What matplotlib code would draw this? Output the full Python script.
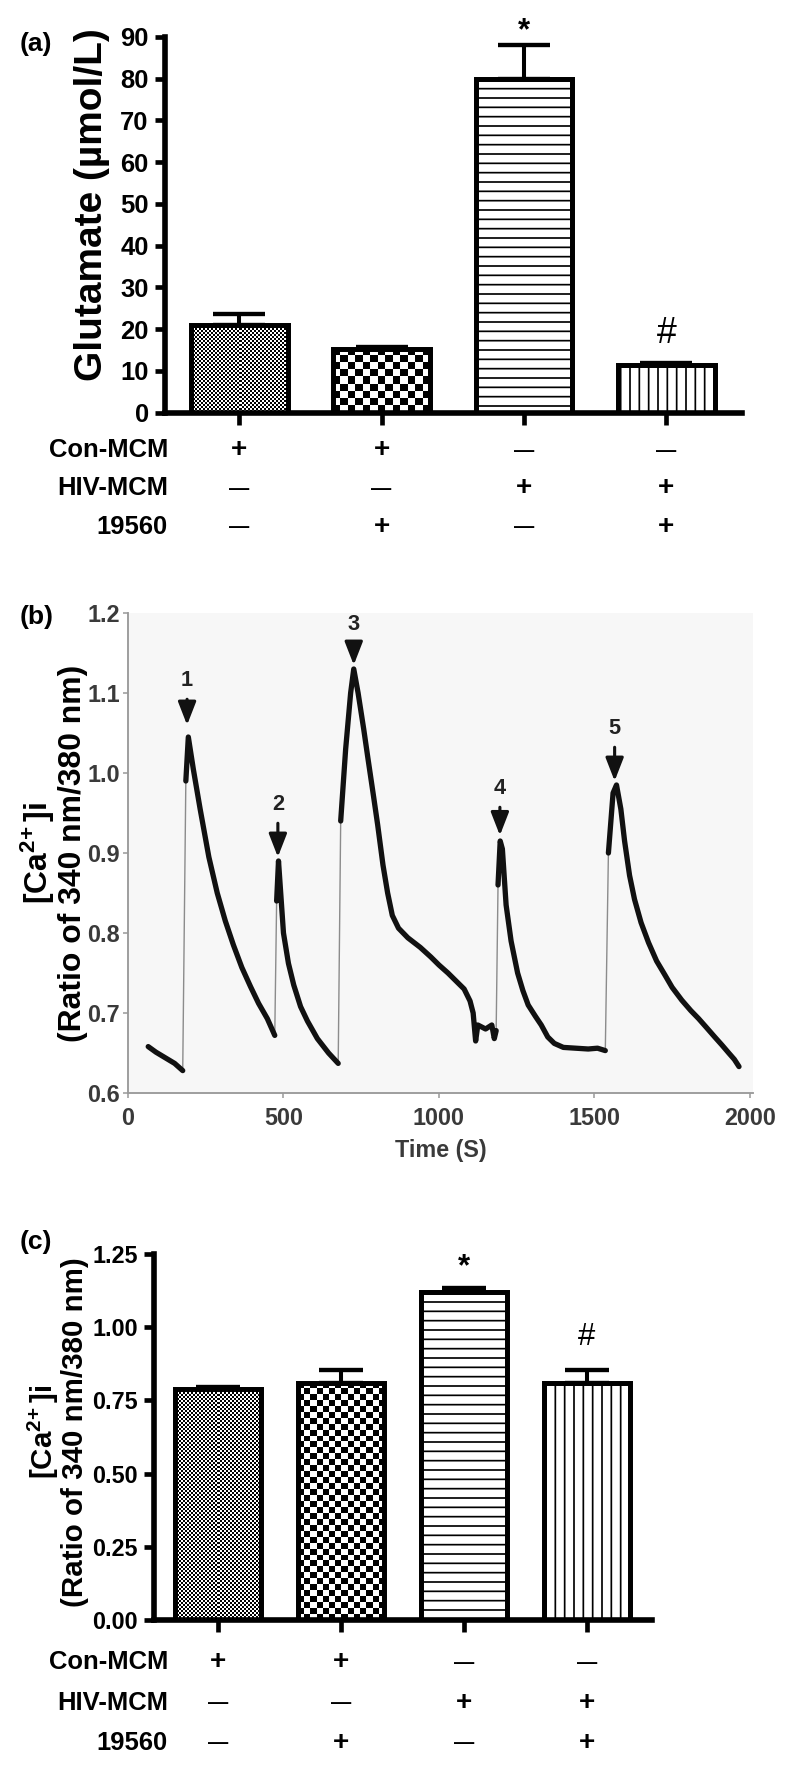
import numpy as np
import matplotlib
matplotlib.use('Agg')
import matplotlib.pyplot as plt
import matplotlib.transforms as mtransforms

plt.rcParams['font.family'] = ['Liberation Sans', 'DejaVu Sans']
plt.rcParams['font.weight'] = 'bold'
plt.rcParams['axes.labelweight'] = 'bold'
plt.rcParams['mathtext.fontset'] = 'custom'
plt.rcParams['mathtext.rm'] = 'Liberation Sans:bold'
plt.rcParams['mathtext.it'] = 'Liberation Sans:bold'
plt.rcParams['mathtext.bf'] = 'Liberation Sans:bold'
plt.rcParams['hatch.linewidth'] = 1.1
plt.rcParams['hatch.color'] = 'black'

# ---- data ----
glu_mean = [21.0, 15.3, 80.0, 11.5]
glu_err = [2.5, 0.4, 8.0, 0.4]
ca_mean = [0.79, 0.81, 1.12, 0.81]
ca_err = [0.007, 0.043, 0.015, 0.043]
sig_marks = ['', '', '*', '#']

row_names = ['Con-MCM', 'HIV-MCM', '19560']
con_mcm = ['+', '+', '\u2014', '\u2014']
hiv_mcm = ['\u2014', '\u2014', '+', '+']
drug_19560 = ['\u2014', '+', '\u2014', '+']

# calcium trace, panel (b)
time_s = [65, 90, 120, 150, 176,
          186, 194, 210, 232, 260, 287, 313, 339, 366, 394, 420, 448, 472,
          478, 484, 500, 516, 533, 555, 577, 609, 645, 676,
          684, 700, 716, 726, 740, 758, 771, 790, 803, 820, 835, 850, 870, 900,
          940, 974, 1000, 1029, 1055, 1081, 1100, 1110, 1118, 1125, 1150, 1170,
          1178, 1184,
          1190, 1197, 1204, 1216, 1232, 1253, 1270, 1287, 1310, 1329, 1350, 1371,
          1400, 1440, 1480, 1510, 1535,
          1545, 1560, 1571, 1585, 1597, 1613, 1629, 1650, 1674, 1700, 1726, 1750,
          1781, 1810, 1835, 1860, 1887, 1910, 1932, 1950, 1965]
ratio = [0.658, 0.651, 0.644, 0.637, 0.628,
         0.99, 1.045, 1.005, 0.955, 0.895, 0.85, 0.815, 0.785, 0.757, 0.733, 0.712, 0.693, 0.672,
         0.84, 0.89, 0.80, 0.762, 0.735, 0.708, 0.69, 0.668, 0.65, 0.637,
         0.94, 1.03, 1.10, 1.13, 1.10, 1.055, 1.02, 0.97, 0.935, 0.885, 0.85, 0.822, 0.806, 0.794,
         0.782, 0.77, 0.76, 0.75, 0.74, 0.73, 0.715, 0.70, 0.665, 0.685, 0.68, 0.685,
         0.668, 0.678,
         0.86, 0.915, 0.905, 0.835, 0.79, 0.75, 0.728, 0.71, 0.696, 0.685, 0.67, 0.662,
         0.657, 0.656, 0.655, 0.656, 0.653,
         0.90, 0.975, 0.985, 0.955, 0.915, 0.872, 0.842, 0.813, 0.788, 0.765, 0.748, 0.732,
         0.716, 0.703, 0.693, 0.682, 0.67, 0.66, 0.65, 0.642, 0.633]

arrow_labels = ['1', '2', '3', '4', '5']
arrow_t = [190, 482, 726, 1196, 1565]
arrow_tip = [1.06, 0.895, 1.135, 0.922, 0.99]
arrow_text_y = [1.115, 0.96, 1.185, 0.98, 1.055]

patterns = ['fine', 'coarse', '--', '||']

W, H, DPI = 800, 1776, 112
fig = plt.figure(figsize=(W / DPI, H / DPI), dpi=DPI)

CA_LABEL = r'[Ca$^{2\!+}$]i' + '\n(Ratio of 340 nm/380 nm)'


def fx(px):
    return px / W


def fy(py):
    return 1 - py / H


def checker(ax, patch, cell_px):
    x0, y0 = patch.get_x(), patch.get_y()
    w, h = patch.get_width(), patch.get_height()
    (px0, py0), (px1, py1) = ax.transData.transform([(x0, y0), (x0 + w, y0 + h)])
    nx = max(1, int(round(abs(px1 - px0) / cell_px)))
    ny = max(1, int(round(abs(py1 - py0) / cell_px)))
    board = np.indices((ny, nx)).sum(axis=0) % 2
    im = ax.imshow(board, cmap='gray', vmin=0, vmax=1, extent=(x0, x0 + w, y0, y0 + h),
                   interpolation='nearest', aspect='auto', zorder=1.5)
    im.set_clip_path(patch)


def bar_panel(ax, mean, err, ylim, yticks, ylabels, width, fine_px, coarse_px,
              capsize, tick_fs, mark_fs, mark_gap, row_y, lw):
    x = np.arange(len(mean))
    ax.set_xlim(-0.52, len(mean) - 0.47)
    ax.set_ylim(*ylim)
    faces = ['none' if p in ('fine', 'coarse') else 'white' for p in patterns]
    bars = ax.bar(x, mean, width=width, color=faces, edgecolor='black', linewidth=lw,
                  zorder=2)
    for b, p in zip(bars, patterns):
        if p == 'fine':
            checker(ax, b, fine_px)
        elif p == 'coarse':
            checker(ax, b, coarse_px)
        else:
            b.set_hatch(p)
    ax.set_xlim(-0.52, len(mean) - 0.47)
    ax.set_ylim(*ylim)
    ax.errorbar(x, mean, yerr=[np.zeros(len(err)), err], fmt='none', ecolor='black',
                elinewidth=2.6, capsize=capsize, capthick=2.8, zorder=3)
    for i, m in enumerate(sig_marks):
        if m:
            ax.annotate(m, (x[i], mean[i] + err[i]), xytext=(0, mark_gap[m]),
                        textcoords='offset points', ha='center', va='baseline',
                        fontsize=mark_fs[m], fontweight='bold' if m == '*' else 'normal',
                        annotation_clip=False)
    for s in ['top', 'right']:
        ax.spines[s].set_visible(False)
    for s in ['left', 'bottom']:
        ax.spines[s].set_linewidth(3.6)
    ax.set_yticks(yticks)
    ax.set_yticklabels(ylabels)
    ax.set_xticks(x)
    ax.set_xticklabels([])
    ax.tick_params(axis='y', length=6.5, width=3, pad=4, labelsize=tick_fs)
    ax.tick_params(axis='x', length=8, width=3)
    # treatment rows below the axis
    tr = mtransforms.blended_transform_factory(ax.transData, fig.transFigure)
    for name, signs, yy in zip(row_names, [con_mcm, hiv_mcm, drug_19560], row_y):
        fig.text(fx(168), fy(yy), name, ha='right', va='center', fontsize=16.5)
        for i, s in enumerate(signs):
            if s == '+':
                ax.text(x[i], fy(yy), s, transform=tr, ha='center', va='center',
                        fontsize=18)
            else:
                ax.text(x[i], fy(yy), s, transform=tr, ha='center', va='center',
                        fontsize=13)


# ---- panel (a) ----
axa = fig.add_axes([fx(165), fy(412.5), fx(742 - 165), (412.5 - 37) / H])
bar_panel(axa, glu_mean, glu_err, (0, 90), np.arange(0, 91, 10),
          [str(v) for v in range(0, 91, 10)], 0.68, 2.0, 7.5, 16.5, 16.5,
          {'*': 20, '#': 23}, {'*': 4, '#': 13}, [450, 488, 527], 3.2)
fig.text(fx(92), fy(205), 'Glutamate (\u00b5mol/L)', rotation=90, ha='center',
         va='center', fontsize=25)
fig.text(fx(36), fy(44), '(a)', ha='center', va='center', fontsize=17)

# ---- panel (b) ----
axb = fig.add_axes([fx(128), fy(1093), fx(625), 480 / H], facecolor='#f7f7f7')
axb.plot(time_s, ratio, color='#8c8c8c', lw=0.9, zorder=2)
t_arr = np.array(time_s)
r_arr = np.array(ratio)
breaks = np.where(np.diff(r_arr) > 0.1)[0] + 1
for seg_t, seg_r in zip(np.split(t_arr, breaks), np.split(r_arr, breaks)):
    axb.plot(seg_t, seg_r, color='#111111', lw=3.4, solid_capstyle='round', zorder=3)
for lab, t, tip, ty in zip(arrow_labels, arrow_t, arrow_tip, arrow_text_y):
    axb.annotate(lab, xy=(t, tip), xytext=(t, ty), ha='center', va='center',
                 fontsize=14, color='#222222',
                 arrowprops=dict(arrowstyle='-|>,head_length=0.9,head_width=0.35',
                                 color='#111111', lw=2, shrinkA=3, shrinkB=0))
axb.set_xlim(0, 2010)
axb.set_ylim(0.6, 1.2)
axb.set_xticks([0, 500, 1000, 1500, 2000])
axb.set_yticks([0.6, 0.7, 0.8, 0.9, 1.0, 1.1, 1.2])
axb.set_yticklabels(['0.6', '0.7', '0.8', '0.9', '1.0', '1.1', '1.2'])
for s in ['top', 'right']:
    axb.spines[s].set_visible(False)
for s in ['left', 'bottom']:
    axb.spines[s].set_color('#9a9a9a')
    axb.spines[s].set_linewidth(1.2)
axb.tick_params(axis='both', length=3, width=1, color='#9a9a9a', labelsize=15,
                labelcolor='#3a3a3a')
axb.tick_params(axis='x', pad=6)
axb.tick_params(axis='y', pad=2)
axb.set_xlabel('Time (S)', fontsize=15, fontweight='bold', color='#3a3a3a', labelpad=6)
fig.text(fx(53), fy(853), CA_LABEL, rotation=90,
         ha='center', va='center', multialignment='center', fontsize=20.5,
         linespacing=1.05)
fig.text(fx(37), fy(617), '(b)', ha='center', va='center', fontsize=17)

# ---- panel (c) ----
axc = fig.add_axes([fx(154), fy(1620), fx(652 - 154), 366 / H])
bar_panel(axc, ca_mean, ca_err, (0, 1.25), [0, 0.25, 0.5, 0.75, 1.0, 1.25],
          ['0.00', '0.25', '0.50', '0.75', '1.00', '1.25'], 0.70, 2.0, 6.0, 14, 15,
          {'*': 20, '#': 20}, {'*': 8, '#': 16}, [1662, 1703, 1743], 3.2)
fig.text(fx(57), fy(1432), CA_LABEL, rotation=90,
         ha='center', va='center', multialignment='center', fontsize=19,
         linespacing=1.0)
fig.text(fx(36), fy(1242), '(c)', ha='center', va='center', fontsize=17)

fig.savefig('out.png', dpi=DPI)
